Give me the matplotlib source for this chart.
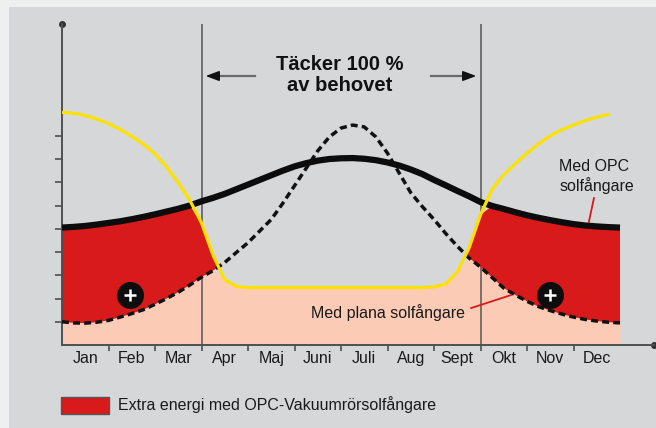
import matplotlib
matplotlib.use("Agg")
import matplotlib.pyplot as plt
import numpy as np
from matplotlib.patches import Rectangle

# months at quarter steps (0 = start of Jan, 12 = end of Dec)
months = np.arange(0, 12.01, 0.25)

# "Med OPC solfångare" (thick black)
opc = [5.05, 5.08, 5.12, 5.18, 5.25, 5.32, 5.41, 5.51, 5.62, 5.74, 5.86, 6.00,
       6.18, 6.33, 6.50, 6.70, 6.90, 7.10, 7.30, 7.50, 7.68, 7.82, 7.93, 8.00,
       8.03, 8.04, 8.01, 7.95, 7.85, 7.72, 7.55, 7.35, 7.10, 6.87, 6.63, 6.40,
       6.15, 5.98, 5.85, 5.71, 5.58, 5.47, 5.37, 5.28, 5.20, 5.14, 5.10, 5.07, 5.05]

# "Med plana solfångare" (dashed)
plana = [1.00, 0.95, 0.94, 0.98, 1.06, 1.20, 1.35, 1.52, 1.75, 2.00, 2.27, 2.58,
         2.92, 3.20, 3.55, 3.98, 4.40, 4.90, 5.40, 6.10, 6.85, 7.60, 8.35, 8.95,
         9.33, 9.46, 9.38, 8.95, 8.25, 7.40, 6.55, 5.95, 5.40, 4.80, 4.25, 3.75,
         3.35, 2.90, 2.45, 2.15, 1.88, 1.65, 1.48, 1.33, 1.20, 1.10, 1.03, 0.98, 0.95]

# energy demand (yellow)
behov = [10.0, 9.97, 9.87, 9.72, 9.52, 9.27, 8.98, 8.64, 8.22, 7.65, 6.98, 6.22,
         5.25, 3.85, 2.80, 2.52, 2.47, 2.47, 2.47, 2.47, 2.47, 2.47, 2.47, 2.47,
         2.47, 2.47, 2.47, 2.47, 2.47, 2.47, 2.47, 2.47, 2.50, 2.62, 3.15, 4.15,
         5.60, 6.70, 7.32, 7.80, 8.25, 8.65, 9.00, 9.26, 9.46, 9.65, 9.80, 9.92, 10.0]

month_labels = ['Jan', 'Feb', 'Mar', 'Apr', 'Maj', 'Juni', 'Juli', 'Aug', 'Sept', 'Okt', 'Nov', 'Dec']

opc = np.array(opc)
plana = np.array(plana)
behov = np.array(behov)

plt.rcParams['font.family'] = ['Liberation Sans', 'DejaVu Sans']

W, H = 656, 428
fig = plt.figure(figsize=(W/100, H/100), dpi=100, facecolor='#eef0ef')
fig.add_artist(Rectangle((9/W, 0), 1, (H-7)/H, transform=fig.transFigure,
                         facecolor='#d6d7d9', edgecolor='none', zorder=-10))

ax = fig.add_axes([62/W, (H-345)/H, (654-62)/W, (345-24)/H])
ax.set_facecolor('none')
ax.set_xlim(0, 592/46.5)
ax.set_ylim(0, 321/23.25)

# fills
low = np.minimum(plana, behov)
ax.fill_between(months, 0, low, color='#fccbb5', lw=0, zorder=1)
top = np.minimum(opc, behov)
ax.fill_between(months, plana, top, where=top > plana, interpolate=True,
                color='#d81a1b', lw=0, zorder=2)

# April / Sept lines
for m in [3, 9]:
    ax.axvline(m, color='#555555', lw=1.1, zorder=1.5)

ax.plot(months, plana, color='#111111', lw=2.5, linestyle=(0, (2.0, 1.2)), zorder=3)
ax.plot(months, opc, color='#0c0c0c', lw=4.5, solid_capstyle='butt',
        solid_joinstyle='round', zorder=4)
keep = months <= 11.94
ax.plot(months[keep], behov[keep], color='#fde100', lw=2.3,
        solid_joinstyle='round', zorder=5)

# plus markers
ax.scatter([1.46, 10.49], [2.15, 2.15], s=340, color='#0d0d0d', zorder=6)
ax.scatter([1.46, 10.49], [2.15, 2.15], s=85, marker='+', color='white', linewidths=1.8, zorder=7)

# arrows
ax.plot([4.15, 3.3], [11.57, 11.57], color='#6a6a6a', lw=1.6, zorder=3)
ax.annotate('', xy=(3.03, 11.57), xytext=(3.35, 11.57),
            arrowprops=dict(arrowstyle='-|>,head_length=0.8,head_width=0.3', color='#111111', lw=1.2))
ax.plot([7.94, 8.65], [11.57, 11.57], color='#6a6a6a', lw=1.6, zorder=3)
ax.annotate('', xy=(8.97, 11.57), xytext=(8.65, 11.57),
            arrowprops=dict(arrowstyle='-|>,head_length=0.8,head_width=0.3', color='#111111', lw=1.2))

ax.text(5.98, 11.6, 'Täcker 100 %\nav behovet', ha='center', va='center',
        fontsize=14.5, fontweight='bold', linespacing=1.15, color='#111111')

ax.text(10.69, 7.25, 'Med OPC\nsolfångare', ha='left', va='center', fontsize=11.5, color='#1a1a1a')
ax.plot([11.44, 11.33], [6.32, 5.29], color='#d81a1b', lw=1.3, zorder=6)

ax.text(8.67, 1.38, 'Med plana solfångare', ha='right', va='center', fontsize=11.5, color='#1a1a1a', zorder=6)
ax.plot([8.80, 9.66], [1.59, 2.15], color='#d81a1b', lw=1.3, zorder=6)

# axes styling
for s in ['top', 'right']:
    ax.spines[s].set_visible(False)
for s in ['left', 'bottom']:
    ax.spines[s].set_color('#505050')
    ax.spines[s].set_linewidth(1.4)
ax.plot([0], [321/23.25], 'o', ms=4, color='#333333', clip_on=False)
ax.plot([592/46.5], [0], 'o', ms=4, color='#333333', clip_on=False)

ax.set_yticks(range(1, 10))
ax.set_yticklabels([])
ax.tick_params(axis='y', length=5, width=1.2, color='#505050')
ax.set_xticks(range(1, 12))
ax.set_xticklabels([])
ax.tick_params(axis='x', which='major', length=4, width=1.2, color='#505050')
ax.set_xticks(np.arange(12) + 0.5, minor=True)
ax.set_xticklabels(month_labels, minor=True, fontsize=11.5, color='#1a1a1a')
ax.tick_params(axis='x', which='minor', length=0, pad=4)

# legend
fig.add_artist(Rectangle((61/W, (H-414)/H), 48/W, 17/H, transform=fig.transFigure,
                         facecolor='#d81a1b', edgecolor='#555555', lw=1))
fig.text(118/W, (H-405)/H, 'Extra energi med OPC-Vakuumrörsolfångare',
         ha='left', va='center', fontsize=11.5, color='#1a1a1a')

plt.savefig('out.png', dpi=100, facecolor=fig.get_facecolor())
